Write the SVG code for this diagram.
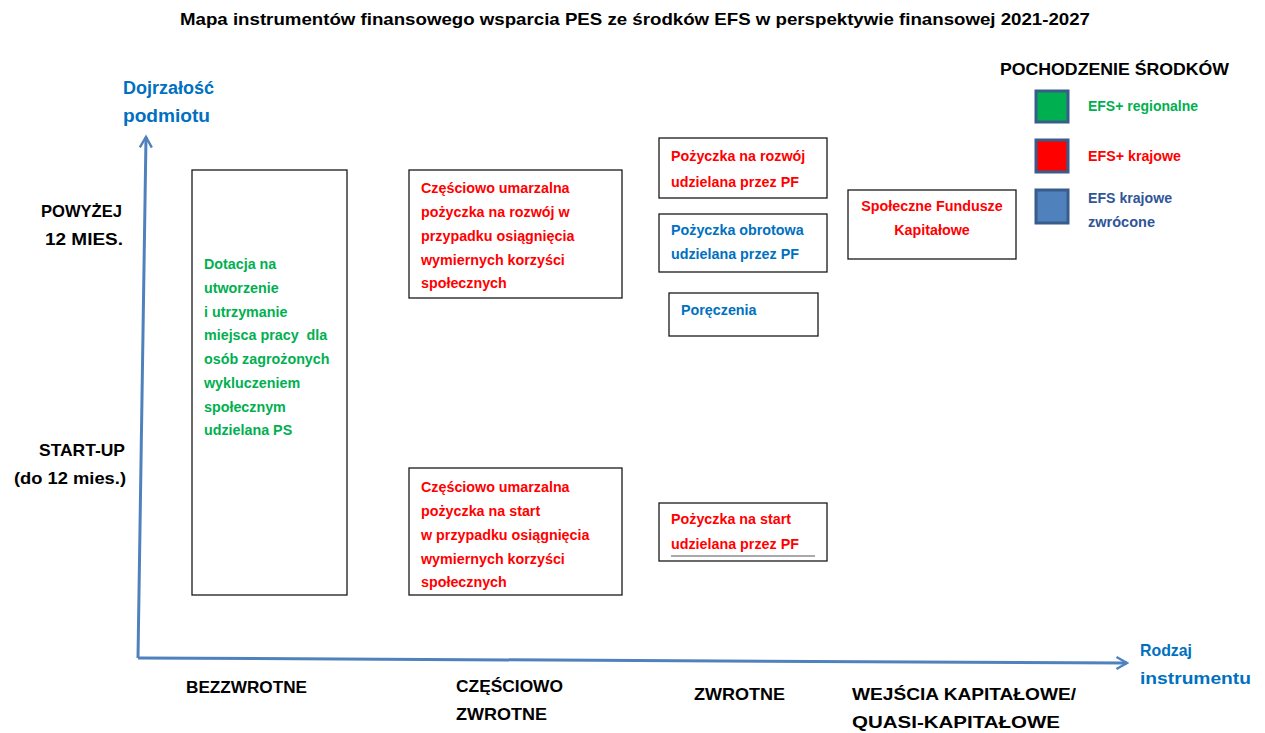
<svg xmlns="http://www.w3.org/2000/svg" width="1265" height="733" viewBox="0 0 1265 733">
<style>
text{font-family:"Liberation Sans",Arial,sans-serif;font-weight:bold;}
.t{font-size:14.3px;}
.k{fill:#000;}
.g{fill:#00B050;}
.r{fill:#FF0000;}
.b{fill:#0070C0;}
.d{fill:#2F5597;}
.box{fill:#fff;stroke:#1a1a1a;stroke-width:1.3;}
.ax{fill:none;stroke:#4F81BD;stroke-width:3;}
.sq{stroke:#385D8A;stroke-width:3;}
</style>
<defs>
<marker id="arr" viewBox="0 0 10 10" refX="8" refY="5" markerWidth="5" markerHeight="5" orient="auto" markerUnits="strokeWidth">
<path d="M1,1 L8,5 L1,9" fill="none" stroke="#4F81BD" stroke-width="1.6"/>
</marker>
</defs>
<rect width="1265" height="733" fill="#fff"/>
<text x="635" y="25" text-anchor="middle" class="k" font-size="16.5" textLength="910" lengthAdjust="spacingAndGlyphs">Mapa instrumentów finansowego wsparcia PES ze środków EFS w perspektywie finansowej 2021-2027</text>

<g id="axes">
<path class="ax" d="M138,658 L146,137" marker-end="url(#arr)"/>
<path class="ax" d="M138,658 L1127,663" marker-end="url(#arr)"/>
</g>

<g id="axis-labels">
<text x="123" y="94" class="b" font-size="17.5" textLength="91" lengthAdjust="spacingAndGlyphs">Dojrzałość</text>
<text x="123" y="122" class="b" font-size="17.5" textLength="87" lengthAdjust="spacingAndGlyphs">podmiotu</text>
<text x="1140" y="656" class="b" font-size="16.5" textLength="52" lengthAdjust="spacingAndGlyphs">Rodzaj</text>
<text x="1140" y="684" class="b" font-size="16.5" textLength="111" lengthAdjust="spacingAndGlyphs">instrumentu</text>
<text x="41" y="217" class="k" font-size="17" textLength="81" lengthAdjust="spacingAndGlyphs">POWYŻEJ</text>
<text x="45" y="245" class="k" font-size="17" textLength="78" lengthAdjust="spacingAndGlyphs">12 MIES.</text>
<text x="39" y="456" class="k" font-size="17" textLength="86" lengthAdjust="spacingAndGlyphs">START-UP</text>
<text x="14" y="484" class="k" font-size="17" textLength="112" lengthAdjust="spacingAndGlyphs">(do 12 mies.)</text>
<text x="186" y="693" class="k" font-size="16.5" textLength="121" lengthAdjust="spacingAndGlyphs">BEZZWROTNE</text>
<text x="456" y="692" class="k" font-size="16.5" textLength="107" lengthAdjust="spacingAndGlyphs">CZĘŚCIOWO</text>
<text x="456" y="720" class="k" font-size="16.5" textLength="91" lengthAdjust="spacingAndGlyphs">ZWROTNE</text>
<text x="694" y="700" class="k" font-size="16.5" textLength="91" lengthAdjust="spacingAndGlyphs">ZWROTNE</text>
<text x="852" y="700" class="k" font-size="16.5" textLength="224" lengthAdjust="spacingAndGlyphs">WEJŚCIA KAPITAŁOWE/</text>
<text x="852" y="728" class="k" font-size="16.5" textLength="208" lengthAdjust="spacingAndGlyphs">QUASI-KAPITAŁOWE</text>
</g>

<g id="dotacja">
<rect class="box" x="192" y="170" width="155" height="425"/>
<text class="t g" x="204" y="269">Dotacja na</text>
<text class="t g" x="204" y="293">utworzenie</text>
<text class="t g" x="204" y="317">i utrzymanie</text>
<text class="t g" x="204" y="340" xml:space="preserve">miejsca pracy  dla</text>
<text class="t g" x="204" y="364">osób zagrożonych</text>
<text class="t g" x="204" y="388">wykluczeniem</text>
<text class="t g" x="204" y="412">społecznym</text>
<text class="t g" x="204" y="435">udzielana PS</text>
</g>

<g id="czesciowo-rozwoj">
<rect class="box" x="409" y="170" width="213" height="128"/>
<text class="t r" x="421" y="193">Częściowo umarzalna</text>
<text class="t r" x="421" y="217">pożyczka na rozwój w</text>
<text class="t r" x="421" y="241">przypadku osiągnięcia</text>
<text class="t r" x="421" y="265">wymiernych korzyści</text>
<text class="t r" x="421" y="288">społecznych</text>
</g>

<g id="czesciowo-start">
<rect class="box" x="409" y="468" width="213" height="127"/>
<text class="t r" x="421" y="492">Częściowo umarzalna</text>
<text class="t r" x="421" y="516">pożyczka na start</text>
<text class="t r" x="421" y="540">w przypadku osiągnięcia</text>
<text class="t r" x="421" y="564">wymiernych korzyści</text>
<text class="t r" x="421" y="587">społecznych</text>
</g>

<g id="pozyczka-rozwoj">
<rect class="box" x="659" y="138" width="168" height="60"/>
<text class="t r" x="671" y="161">Pożyczka na rozwój</text>
<text class="t r" x="671" y="187">udzielana przez PF</text>
</g>

<g id="pozyczka-obrotowa">
<rect class="box" x="659" y="214" width="168" height="58"/>
<text class="t b" x="671" y="235">Pożyczka obrotowa</text>
<text class="t b" x="671" y="259">udzielana przez PF</text>
</g>

<g id="poreczenia">
<rect class="box" x="669" y="293" width="149" height="43"/>
<text class="t b" x="681" y="315">Poręczenia</text>
</g>

<g id="pozyczka-start">
<rect class="box" x="659" y="503" width="168" height="58"/>
<text class="t r" x="671" y="524">Pożyczka na start</text>
<text class="t r" x="671" y="549">udzielana przez PF</text>
<line x1="671" y1="556" x2="815" y2="556" stroke="#555" stroke-width="1"/>
</g>

<g id="sfk">
<rect class="box" x="848" y="190" width="168" height="69"/>
<text class="t r" x="932" y="211" text-anchor="middle">Społeczne Fundusze</text>
<text class="t r" x="932" y="235" text-anchor="middle">Kapitałowe</text>
</g>

<g id="legend">
<text x="1000" y="75" class="k" font-size="16.5" textLength="229" lengthAdjust="spacingAndGlyphs">POCHODZENIE ŚRODKÓW</text>
<rect class="sq" x="1036" y="91" width="32" height="31" fill="#00B050"/>
<rect class="sq" x="1036" y="140" width="32" height="32" fill="#FF0000"/>
<rect class="sq" x="1036" y="190" width="32" height="33" fill="#4F81BD"/>
<text class="g" x="1088" y="111" font-size="14" textLength="110" lengthAdjust="spacingAndGlyphs">EFS+ regionalne</text>
<text class="r" x="1088" y="161" font-size="14" textLength="93" lengthAdjust="spacingAndGlyphs">EFS+ krajowe</text>
<text class="d" x="1088" y="203" font-size="14" textLength="84" lengthAdjust="spacingAndGlyphs">EFS krajowe</text>
<text class="d" x="1088" y="227" font-size="14" textLength="67" lengthAdjust="spacingAndGlyphs">zwrócone</text>
</g>
</svg>
